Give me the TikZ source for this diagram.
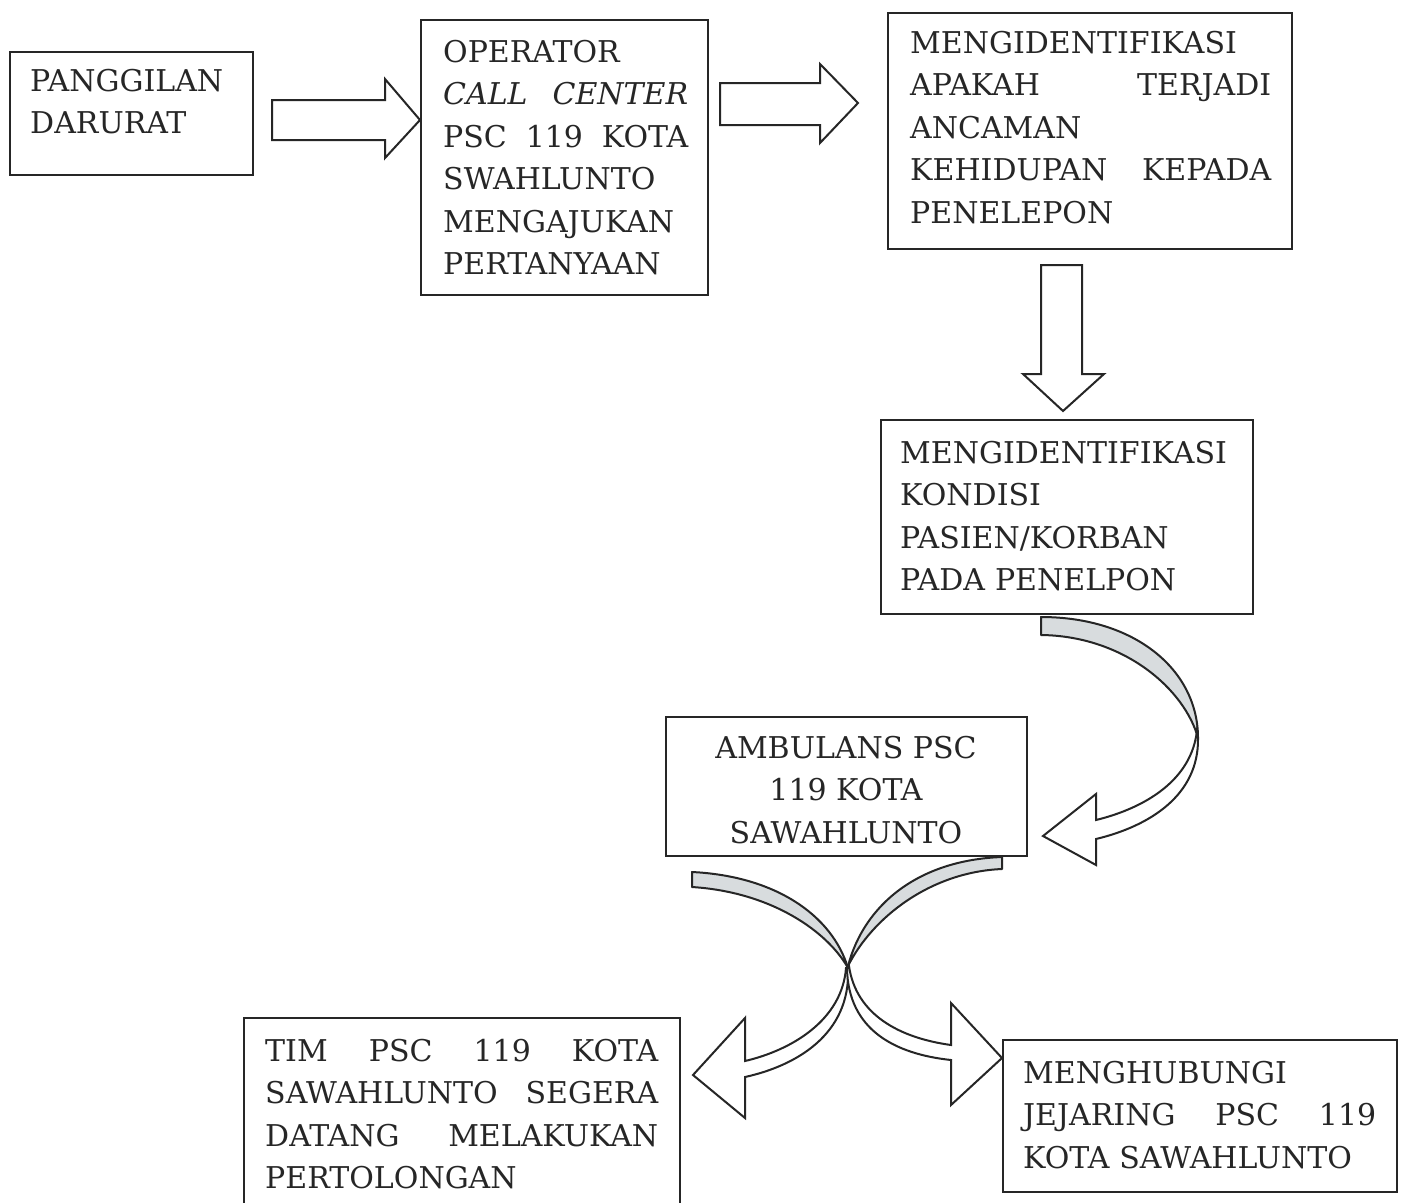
\documentclass[tikz,border=0pt]{standalone}
\usepackage{fontspec}
\setmainfont{DejaVu Serif}
\definecolor{ink}{HTML}{262626}
\definecolor{band}{HTML}{D8DCDE}
\begin{document}
\begin{tikzpicture}[x=1pt,y=-1pt,
 box/.style={draw=ink, line width=2.2pt, rectangle, inner sep=0pt},
 txt/.style={inner sep=0pt, anchor=north west, align=left, font=\fontsize{30}{42.5}\selectfont, text=ink},
 blk/.style={draw=ink, line width=2pt, fill=white, line join=miter},
 back/.style={draw=ink, line width=2pt, fill=band, line join=round}]
\useasboundingbox[fill=white] (0,0) rectangle (1404,1202);

% boxes
\node[box, minimum width=243, minimum height=123] (b1) at (131.5,113.5) {};
\node[box, minimum width=287, minimum height=275] (b2) at (564.5,157.5) {};
\node[box, minimum width=404, minimum height=236] (b3) at (1090,131) {};
\node[box, minimum width=372, minimum height=194] (b4) at (1067,517) {};
\node[box, minimum width=361, minimum height=139] (b5) at (846.5,786.5) {};
\node[box, minimum width=436, minimum height=200] (b6) at (462,1118) {};
\node[box, minimum width=394, minimum height=152] (b7) at (1200,1116) {};

% texts
\node[txt, text width=220] (t1) at (30,69) {PANGGILAN\\DARURAT};
\node[txt, text width=245] (t2) at (443,40) {OPERATOR\\\textit{CALL}\hfill\textit{CENTER}\\PSC\hfill 119\hfill KOTA\\SWAHLUNTO\\MENGAJUKAN\\PERTANYAAN};
\node[txt, text width=361] (t3) at (910,31) {MENGIDENTIFIKASI\\APAKAH\hfill TERJADI\\ANCAMAN\\KEHIDUPAN\hfill KEPADA\\PENELEPON};
\node[txt, text width=340] (t4) at (900,441) {MENGIDENTIFIKASI\\KONDISI\\PASIEN/KORBAN\\PADA PENELPON};
\node[txt, anchor=north, align=center] (t5) at (846,736) {AMBULANS PSC\\119 KOTA\\SAWAHLUNTO};
\node[txt, text width=393] (t6) at (265,1039) {TIM\hfill PSC\hfill 119\hfill KOTA\\SAWAHLUNTO\hfill SEGERA\\DATANG\hfill MELAKUKAN\\PERTOLONGAN};
\node[txt, text width=353] (t7) at (1023,1061) {MENGHUBUNGI\\JEJARING\hfill PSC\hfill 119\\KOTA SAWAHLUNTO};

% block arrows
\draw[blk] (272,100) -- (385,100) -- (385,79) -- (420,120) -- (385,158) -- (385,140) -- (272,140) -- cycle;
\draw[blk] (720,83) -- (820,83) -- (820,64) -- (858,103) -- (820,143) -- (820,125) -- (720,125) -- cycle;
\draw[blk] (1041,265) -- (1082,265) -- (1082,374) -- (1104,374) -- (1063,411) -- (1023,374) -- (1041,374) -- cycle;

% curved arrow from b4 to b5
\draw[back] (1041,617) .. controls (1135,617) and (1198,670) .. (1198,738)
  .. controls (1185,690) and (1125,636) .. (1041,635) -- cycle;
\draw[blk] (1197,730) .. controls (1192,780) and (1145,808) .. (1096,820)
  -- (1096,794) -- (1043,836) -- (1096,865) -- (1096,839)
  .. controls (1150,826) and (1199,795) .. (1198,738) -- cycle;

% curved arrow from b5 to b6 (left)
\draw[back] (692,872) .. controls (775,876) and (832,915) .. (848,968)
  .. controls (828,932) and (772,892) .. (692,887) -- cycle;
% curved arrow from b5 to b7 (right)
\draw[back] (1002,857) .. controls (918,860) and (864,905) .. (848,966)
  .. controls (872,918) and (930,872) .. (1002,869) -- cycle;
% white fronts
\draw[blk] (846,968) .. controls (842,1020) and (792,1050) .. (745,1061)
  -- (745,1018) -- (693,1075) -- (745,1118) -- (745,1077)
  .. controls (795,1066) and (851,1035) .. (848,968) -- cycle;
\draw[blk] (849,966) .. controls (856,1015) and (900,1038) .. (951,1045)
  -- (951,1003) -- (1002,1058) -- (951,1105) -- (951,1060)
  .. controls (895,1054) and (848,1030) .. (847,968) -- cycle;
\end{tikzpicture}
\end{document}
